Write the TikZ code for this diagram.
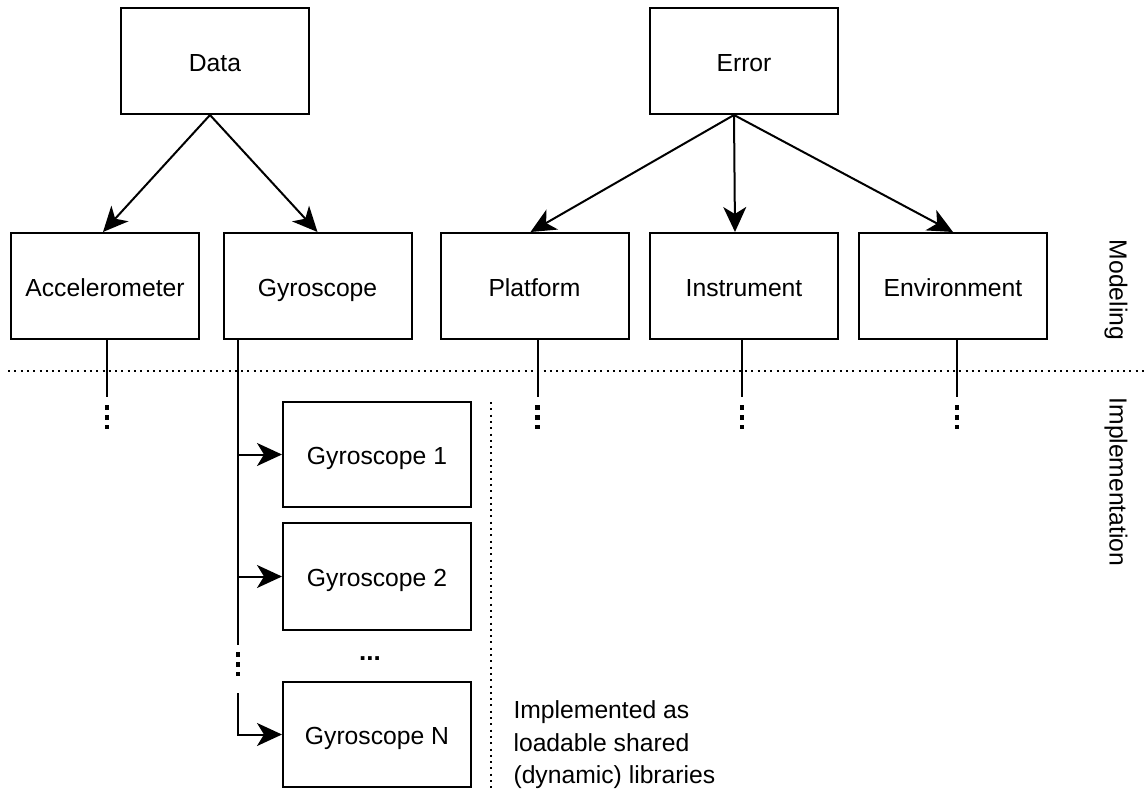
\documentclass[tikz,border=0pt]{standalone}
\usepackage{fontspec}
\setmainfont{Liberation Sans}
\usetikzlibrary{arrows.meta}
\begin{document}
\begin{tikzpicture}[x=1pt,y=-1pt,
  every node/.style={font=\fontsize{24.7pt}{32.5pt}\selectfont},
  box/.style={draw, line width=2pt, minimum width=188pt, minimum height=106pt, inner sep=0pt, text height=21.5pt, text depth=1pt},
  conn/.style={line width=2pt},
  arr/.style={line width=2pt, -{Stealth[length=25pt,width=23pt,inset=7pt]}},
  ellip/.style={line width=4.5pt, dash pattern=on 4.5pt off 5.5pt},
  sep/.style={line width=2pt, dash pattern=on 2pt off 4.3pt}]
\useasboundingbox (0,0) rectangle (1146,789);

% top boxes
\node[box] (data)  at (215,61) {Data};
\node[box] (error) at (744,61) {Error};

% modeling boxes
\node[box] (acc)   at (105,286)   {Accelerometer};
\node[box] (gyro)  at (317.5,286) {Gyroscope};
\node[box] (plat)  at (534.5,286) {Platform};
\node[box] (instr) at (744,286)   {Instrument};
\node[box] (env)   at (953,286)   {Environment};

% implementation boxes
\node[box, minimum height=105pt] (g1) at (377,454.5) {Gyroscope 1};
\node[box, minimum height=107pt] (g2) at (377,576.5) {Gyroscope 2};
\node[box, minimum height=105pt] (gN) at (377,734.5) {Gyroscope N};
\node[font=\fontsize{26pt}{30pt}\selectfont\bfseries] (gdots) at (370,659) {...};

% arrows from Data
\draw[arr] ([xshift=-5pt]data.south) -- ([xshift=-2pt]acc.north);
\draw[arr] ([xshift=-5pt]data.south) -- (gyro.north);

% arrows from Error
\draw[arr] ([xshift=-10pt]error.south) -- ([xshift=-4pt]plat.north);
\draw[arr] ([xshift=-10pt]error.south) -- ([xshift=-9pt]instr.north);
\draw[arr] ([xshift=-10pt]error.south) -- (env.north);

% separator lines
\coordinate (sepL) at (8,371);
\coordinate (sepR) at (1146,371);
\draw[sep] (sepL) -- (sepR);
\coordinate (vsT) at (491,402);
\coordinate (vsB) at (491,789);
\draw[sep] (vsT) -- (vsB);

% stubs with vertical ellipses
\foreach \n/\dx in {acc/2, plat/3, instr/-2, env/4}{
  \coordinate (\n e) at ([xshift=\dx pt]\n.south);
  \draw[conn] (\n e) -- ++(0,57);
  \draw[ellip] ([yshift=-65pt]\n e) -- ++(0,24);
}

% gyroscope branch
\coordinate (gb) at ([xshift=-79.5pt]gyro.south);
\coordinate (gbEnd) at (238,645);
\draw[conn] (gb) -- (gbEnd);
\draw[arr] (gb |- g1.west) -- (g1.west);
\draw[arr] (gb |- g2.west) -- (g2.west);
\draw[ellip] (238,652) -- (238,676);
\coordinate (gbN) at (238,693);
\draw[arr] (gbN) |- (gN.west);

% notes
\node[anchor=west, align=left] (note) at (510,745) {Implemented as\\loadable shared\\(dynamic) libraries};
\node[rotate=-90] (lmod) at (1116,290) {Modeling};
\node[rotate=-90] (limp) at (1116,482) {Implementation};
\end{tikzpicture}
\end{document}
